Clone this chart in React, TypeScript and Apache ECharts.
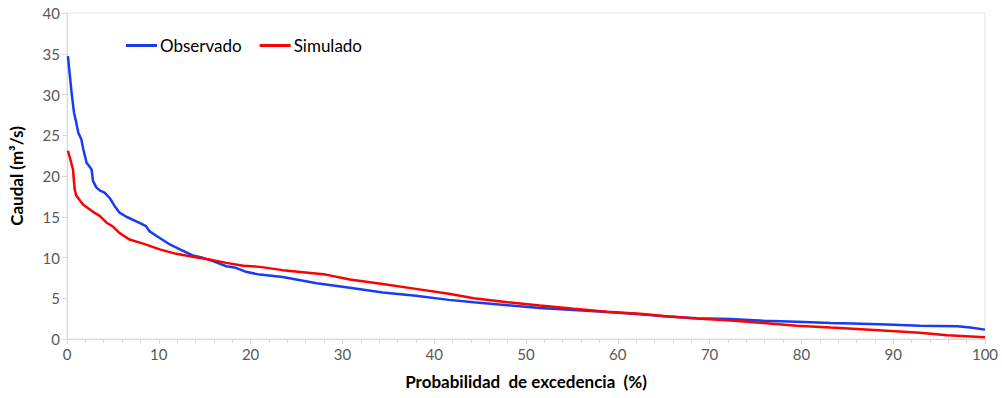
import React, { useEffect, useRef } from "react";
import * as echarts from "echarts";

const obsX = [0.1, 0.5, 0.76, 1.0, 1.23, 1.56, 1.77, 2.14, 2.29, 2.68, 2.83, 3.19, 3.6, 4.1, 4.65, 5.2, 5.73, 6.46, 7.9, 8.6, 9.0, 10.1, 11.2, 12.3, 13.7, 14.8, 15.9, 17.35, 18.4, 19.5, 21.0, 23.5, 27.2, 30.8, 34.4, 38.0, 41.6, 44.3, 48.0, 51.5, 55.2, 58.8, 62.4, 65, 68.6, 72.3, 75.9, 79.5, 83.2, 85.6, 89.3, 92.9, 97, 98.4, 100];
const obsY = [34.7, 30.2, 27.8, 26.6, 25.3, 24.5, 23.3, 21.6, 21.4, 20.8, 19.4, 18.6, 18.2, 17.95, 17.3, 16.3, 15.5, 15.0, 14.26, 13.85, 13.2, 12.4, 11.6, 11.0, 10.25, 9.96, 9.55, 8.93, 8.73, 8.24, 7.9, 7.6, 6.85, 6.3, 5.7, 5.3, 4.8, 4.5, 4.15, 3.8, 3.55, 3.3, 3.04, 2.8, 2.55, 2.45, 2.25, 2.12, 1.95, 1.9, 1.77, 1.64, 1.55, 1.4, 1.15];

const simX = [0.1, 0.47, 0.65, 0.83, 1.0, 1.74, 2.83, 3.56, 4.28, 5.0, 5.73, 6.8, 8.3, 10.1, 11.9, 13.7, 15.5, 17.35, 19.2, 21.0, 23.5, 28.2, 30.8, 34.4, 38.0, 41.6, 44.3, 48.0, 51.5, 55.2, 58.8, 62.4, 65, 68.6, 72.3, 75.9, 79.5, 83.2, 85.6, 89.3, 92.9, 95.9, 100];
const simY = [23.1, 21.6, 20.8, 18.4, 17.6, 16.5, 15.6, 15.1, 14.3, 13.8, 13.0, 12.2, 11.7, 11.0, 10.45, 10.1, 9.75, 9.34, 9.0, 8.85, 8.45, 7.9, 7.3, 6.75, 6.15, 5.55, 5.0, 4.5, 4.1, 3.7, 3.35, 3.1, 2.83, 2.5, 2.26, 1.95, 1.62, 1.4, 1.27, 1.02, 0.78, 0.45, 0.2];

const seriesNames = ["Observado", "Simulado"];
const xTitle = "Probabilidad  de excedencia  (%)";
const yTitle = "Caudal (m³/s)";

export default function App() {
  const ref = useRef<HTMLDivElement>(null);
  useEffect(() => {
    if (!ref.current) return;
    const chart = echarts.init(ref.current, null, { renderer: "svg" });
    const font = "Lato, 'Open Sans', sans-serif";
    chart.setOption({
      animation: false,
      grid: {
        left: 67,
        right: 17,
        top: 13,
        bottom: 59,
        show: true,
        borderColor: "#e4e4e4",
        borderWidth: 1,
      },
      legend: {
        left: 121,
        top: 32,
        icon: "rect",
        itemWidth: 31,
        itemHeight: 3,
        itemGap: 18,
        textStyle: { fontFamily: font, fontSize: 17, color: "#000", padding: [0, 0, 0, -2] },
        data: seriesNames,
      },
      xAxis: {
        type: "value",
        min: 0,
        max: 100,
        interval: 10,
        name: xTitle,
        nameLocation: "middle",
        nameGap: 34,
        nameTextStyle: { fontFamily: font, fontSize: 17, fontWeight: "bold", color: "#000" },
        axisLine: { show: true, lineStyle: { color: "#d9d9d9", width: 1 } },
        axisTick: { show: true, length: 5, lineStyle: { color: "#d9d9d9" } },
        minorTick: { show: true, splitNumber: 5, length: 4, lineStyle: { color: "#d9d9d9" } },
        splitLine: { show: false },
        axisLabel: { fontFamily: font, fontSize: 15, color: "#595959", margin: 7 },
      },
      yAxis: {
        type: "value",
        min: 0,
        max: 40,
        interval: 5,
        name: yTitle,
        nameLocation: "middle",
        nameGap: 42,
        nameTextStyle: { fontFamily: font, fontSize: 17, fontWeight: "bold", color: "#000" },
        axisLine: { show: true, lineStyle: { color: "#d9d9d9", width: 1 } },
        axisTick: { show: true, length: 5, lineStyle: { color: "#d9d9d9" } },
        splitLine: { show: false },
        axisLabel: { fontFamily: font, fontSize: 15, color: "#595959", margin: 7 },
      },
      series: [
        {
          name: seriesNames[0],
          type: "line",
          symbol: "none",
          data: obsX.map((x, i) => [x, obsY[i]]),
          lineStyle: { color: "#1a3cf0", width: 2.5 },
          itemStyle: { color: "#1a3cf0" },
        },
        {
          name: seriesNames[1],
          type: "line",
          symbol: "none",
          data: simX.map((x, i) => [x, simY[i]]),
          lineStyle: { color: "#ff0000", width: 2.5 },
          itemStyle: { color: "#ff0000" },
        },
      ],
    });
    return () => chart.dispose();
  }, []);
  return (
    <div
      ref={ref}
      style={{ position: "fixed", left: 0, top: 0, width: 1002, height: 398, background: "#fff" }}
    />
  );
}
